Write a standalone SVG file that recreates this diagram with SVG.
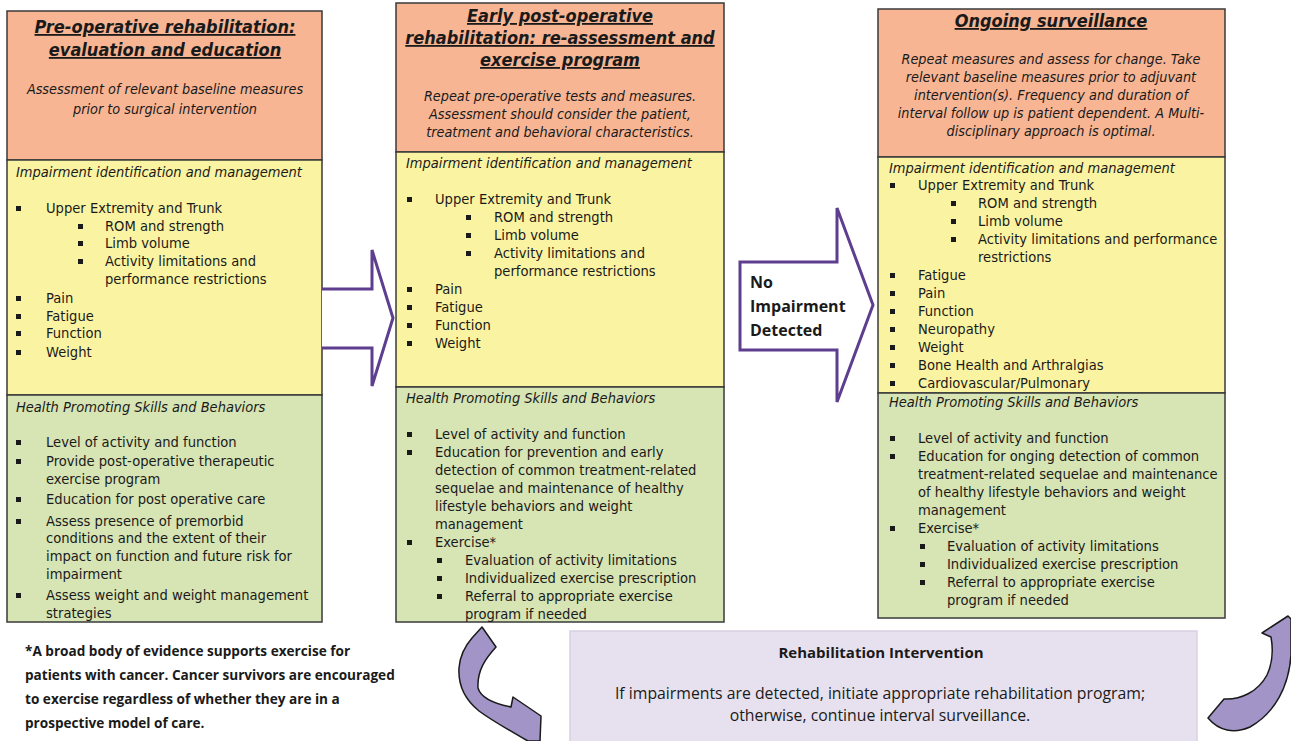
<svg xmlns="http://www.w3.org/2000/svg" width="1291" height="741" viewBox="0 0 1291 741">
<style>
.box{stroke:#3a3a3a;stroke-width:1.5}
.or{fill:#f7b594}
.ye{fill:#faf4a2}
.gr{fill:#d7e4b4}
.ttl{font-family:"DejaVu Sans Condensed","DejaVu Sans",sans-serif;font-weight:bold;font-style:italic;font-size:18px;text-decoration:underline;fill:#1a1a1a;text-anchor:middle}
.sub{font-family:"DejaVu Sans Condensed","DejaVu Sans",sans-serif;font-style:italic;font-size:14.3px;fill:#1a1a1a;text-anchor:middle}
.hd{font-family:"DejaVu Sans Condensed","DejaVu Sans",sans-serif;font-style:italic;font-size:14.5px;fill:#1a1a1a}
.tx{font-family:"DejaVu Sans Condensed","DejaVu Sans",sans-serif;font-size:14.6px;fill:#1a1a1a}
.bl{fill:#1a1a1a}
.fn{font-family:"Open Sans",sans-serif;font-weight:bold;font-size:13.6px;fill:#1a1a1a}
.rh{font-family:"Open Sans",sans-serif;font-size:15.8px;fill:#1a1a1a;text-anchor:middle}
.rhb{font-family:"Open Sans",sans-serif;font-size:15px;font-weight:bold;fill:#1a1a1a;text-anchor:middle}
.arr{fill:#ffffff;stroke:#5e3f8f;stroke-width:3;stroke-linejoin:miter}
.carr{fill:#a394c8;stroke:#1a1a1a;stroke-width:1.5;stroke-linejoin:round}
.nid{font-family:"Open Sans",sans-serif;font-weight:bold;font-size:16px;fill:#1a1a1a}
</style>
<rect width="1291" height="741" fill="#ffffff"/>

<g id="col1">
<rect class="box or" x="7" y="11" width="315" height="149"/>
<rect class="box ye" x="7" y="160" width="315" height="235"/>
<rect class="box gr" x="7" y="395" width="315" height="227"/>
<text class="ttl" x="165" y="33">Pre-operative rehabilitation:</text>
<text class="ttl" x="165" y="56">evaluation and education</text>
<text class="sub" x="165" y="94">Assessment of relevant baseline measures</text>
<text class="sub" x="165" y="114">prior to surgical intervention</text>
<text class="hd" x="16" y="177">Impairment identification and management</text>
<g class="bl">
<rect x="16" y="206" width="5" height="5"/><rect x="78" y="224" width="5" height="5"/><rect x="78" y="241" width="5" height="5"/><rect x="78" y="259" width="5" height="5"/>
<rect x="16" y="296" width="5" height="5"/><rect x="16" y="314" width="5" height="5"/><rect x="16" y="331" width="5" height="5"/><rect x="16" y="350" width="5" height="5"/>
</g>
<text class="tx" x="46" y="213">Upper Extremity and Trunk</text>
<text class="tx" x="105" y="231">ROM and strength</text>
<text class="tx" x="105" y="248">Limb volume</text>
<text class="tx" x="105" y="266">Activity limitations and</text>
<text class="tx" x="105" y="284">performance restrictions</text>
<text class="tx" x="46" y="303">Pain</text>
<text class="tx" x="46" y="321">Fatigue</text>
<text class="tx" x="46" y="338">Function</text>
<text class="tx" x="46" y="357">Weight</text>
<text class="hd" x="16" y="412">Health Promoting Skills and Behaviors</text>
<g class="bl">
<rect x="16" y="440" width="5" height="5"/><rect x="16" y="459" width="5" height="5"/><rect x="16" y="497" width="5" height="5"/><rect x="16" y="519" width="5" height="5"/><rect x="16" y="593" width="5" height="5"/>
</g>
<text class="tx" x="46" y="447">Level of activity and function</text>
<text class="tx" x="46" y="466">Provide post-operative therapeutic</text>
<text class="tx" x="46" y="484">exercise  program</text>
<text class="tx" x="46" y="504">Education for post operative care</text>
<text class="tx" x="46" y="526">Assess presence of premorbid</text>
<text class="tx" x="46" y="543">conditions and the extent of their</text>
<text class="tx" x="46" y="561">impact on function and future risk for</text>
<text class="tx" x="46" y="579">impairment</text>
<text class="tx" x="46" y="600">Assess weight and weight management</text>
<text class="tx" x="46" y="618">strategies</text>
</g>

<g id="col2">
<rect class="box or" x="396" y="3" width="328" height="149"/>
<rect class="box ye" x="396" y="152" width="328" height="235"/>
<rect class="box gr" x="396" y="387" width="328" height="235"/>
<text class="ttl" x="560" y="22">Early post-operative</text>
<text class="ttl" x="560" y="44">rehabilitation: re-assessment and</text>
<text class="ttl" x="560" y="66">exercise program</text>
<text class="sub" x="560" y="101">Repeat pre-operative tests and measures.</text>
<text class="sub" x="560" y="119">Assessment should consider the patient,</text>
<text class="sub" x="560" y="137">treatment and behavioral characteristics.</text>
<text class="hd" x="406" y="168">Impairment identification and management</text>
<g class="bl">
<rect x="407" y="197" width="5" height="5"/><rect x="466" y="215" width="5" height="5"/><rect x="466" y="233" width="5" height="5"/><rect x="466" y="251" width="5" height="5"/>
<rect x="407" y="287" width="5" height="5"/><rect x="407" y="305" width="5" height="5"/><rect x="407" y="323" width="5" height="5"/><rect x="407" y="341" width="5" height="5"/>
</g>
<text class="tx" x="435" y="204">Upper Extremity and Trunk</text>
<text class="tx" x="494" y="222">ROM and strength</text>
<text class="tx" x="494" y="240">Limb volume</text>
<text class="tx" x="494" y="258">Activity limitations and</text>
<text class="tx" x="494" y="276">performance restrictions</text>
<text class="tx" x="435" y="294">Pain</text>
<text class="tx" x="435" y="312">Fatigue</text>
<text class="tx" x="435" y="330">Function</text>
<text class="tx" x="435" y="348">Weight</text>
<text class="hd" x="406" y="403">Health Promoting Skills and Behaviors</text>
<g class="bl">
<rect x="407" y="432" width="5" height="5"/><rect x="407" y="450" width="5" height="5"/><rect x="407" y="540" width="5" height="5"/>
<rect x="437" y="558" width="5" height="5"/><rect x="437" y="576" width="5" height="5"/><rect x="437" y="594" width="5" height="5"/>
</g>
<text class="tx" x="435" y="439">Level of activity and function</text>
<text class="tx" x="435" y="457">Education for prevention and early</text>
<text class="tx" x="435" y="475">detection of common treatment-related</text>
<text class="tx" x="435" y="493">sequelae and maintenance of healthy</text>
<text class="tx" x="435" y="511">lifestyle behaviors and weight</text>
<text class="tx" x="435" y="529">management</text>
<text class="tx" x="435" y="547">Exercise*</text>
<text class="tx" x="465" y="565">Evaluation of activity limitations</text>
<text class="tx" x="465" y="583">Individualized exercise prescription</text>
<text class="tx" x="465" y="601">Referral to appropriate exercise</text>
<text class="tx" x="465" y="619">program if needed</text>
</g>

<g id="col3">
<rect class="box or" x="878" y="9" width="347" height="148"/>
<rect class="box ye" x="878" y="157" width="347" height="236"/>
<rect class="box gr" x="878" y="393" width="347" height="225"/>
<text class="ttl" x="1051" y="27">Ongoing surveillance</text>
<text class="sub" x="1051" y="64">Repeat measures and assess for change. Take</text>
<text class="sub" x="1051" y="82">relevant baseline measures prior to adjuvant</text>
<text class="sub" x="1051" y="100">intervention(s). Frequency and duration of</text>
<text class="sub" x="1051" y="118">interval follow up is patient dependent. A Multi-</text>
<text class="sub" x="1051" y="136">disciplinary approach is optimal.</text>
<text class="hd" x="889" y="173">Impairment identification and management</text>
<g class="bl">
<rect x="890" y="183" width="5" height="5"/><rect x="951" y="201" width="5" height="5"/><rect x="951" y="219" width="5" height="5"/><rect x="951" y="237" width="5" height="5"/>
<rect x="890" y="273" width="5" height="5"/><rect x="890" y="291" width="5" height="5"/><rect x="890" y="309" width="5" height="5"/><rect x="890" y="327" width="5" height="5"/><rect x="890" y="345" width="5" height="5"/><rect x="890" y="363" width="5" height="5"/><rect x="890" y="381" width="5" height="5"/>
</g>
<text class="tx" x="918" y="190">Upper Extremity and Trunk</text>
<text class="tx" x="978" y="208">ROM and strength</text>
<text class="tx" x="978" y="226">Limb volume</text>
<text class="tx" x="978" y="244">Activity limitations and performance</text>
<text class="tx" x="978" y="262">restrictions</text>
<text class="tx" x="918" y="280">Fatigue</text>
<text class="tx" x="918" y="298">Pain</text>
<text class="tx" x="918" y="316">Function</text>
<text class="tx" x="918" y="334">Neuropathy</text>
<text class="tx" x="918" y="352">Weight</text>
<text class="tx" x="918" y="370">Bone Health and Arthralgias</text>
<text class="tx" x="918" y="388">Cardiovascular/Pulmonary</text>
<text class="hd" x="889" y="407">Health Promoting Skills and Behaviors</text>
<g class="bl">
<rect x="890" y="436" width="5" height="5"/><rect x="890" y="454" width="5" height="5"/><rect x="890" y="526" width="5" height="5"/>
<rect x="920" y="544" width="5" height="5"/><rect x="920" y="562" width="5" height="5"/><rect x="920" y="580" width="5" height="5"/>
</g>
<text class="tx" x="918" y="443">Level of activity and function</text>
<text class="tx" x="918" y="461">Education for onging detection of common</text>
<text class="tx" x="918" y="479">treatment-related sequelae and maintenance</text>
<text class="tx" x="918" y="497">of healthy lifestyle behaviors and weight</text>
<text class="tx" x="918" y="515">management</text>
<text class="tx" x="918" y="533">Exercise*</text>
<text class="tx" x="947" y="551">Evaluation of activity limitations</text>
<text class="tx" x="947" y="569">Individualized exercise prescription</text>
<text class="tx" x="947" y="587">Referral to appropriate exercise</text>
<text class="tx" x="947" y="605">program if needed</text>
</g>

<g id="footnote">
<text class="fn" x="25" y="656">*A broad body of evidence supports exercise for</text>
<text class="fn" x="25" y="680">patients with cancer. Cancer survivors are encouraged</text>
<text class="fn" x="25" y="704">to exercise regardless of whether they are in a</text>
<text class="fn" x="25" y="728">prospective model of care.</text>
</g>

<g id="rehab">
<rect x="570" y="631" width="627" height="115" fill="#e7e1ef" stroke="#d8d0e4" stroke-width="1.5"/>
<text class="rhb" x="881" y="658">Rehabilitation Intervention</text>
<text class="rh" x="880" y="699">If impairments are detected, initiate appropriate rehabilitation program;</text>
<text class="rh" x="880" y="721">otherwise, continue interval surveillance.</text>
</g>

<g id="connectors">
<path class="arr" d="M322,289 L372,289 L372,250 L393,318 L372,386 L372,348 L322,348"/>
<path class="arr" d="M740,262 L837,262 L837,208 L873,305 L837,402 L837,350 L740,350 Z"/>
<text class="nid" x="750" y="288">No</text>
<text class="nid" x="750" y="312">Impairment</text>
<text class="nid" x="750" y="336">Detected</text>
<path class="carr" d="M472,638 L482,627 L496,647 C486,658 477,670 478,688 C481,699 496,704 511,707 L513,697 L541,716 L540,741 L528,741 C514,733 494,722 479,711 C464,699 458,685 459,668 C460,655 465,646 472,638 Z"/>
<path class="carr" d="M1262,633 L1288,616 L1291,619 L1291,655 C1289,686 1275,713 1250,727 C1234,734 1219,731 1208,718 L1224,699 C1240,700 1258,692 1267,675 C1273,662 1273,648 1271,637 Z"/>
</g>
</svg>
